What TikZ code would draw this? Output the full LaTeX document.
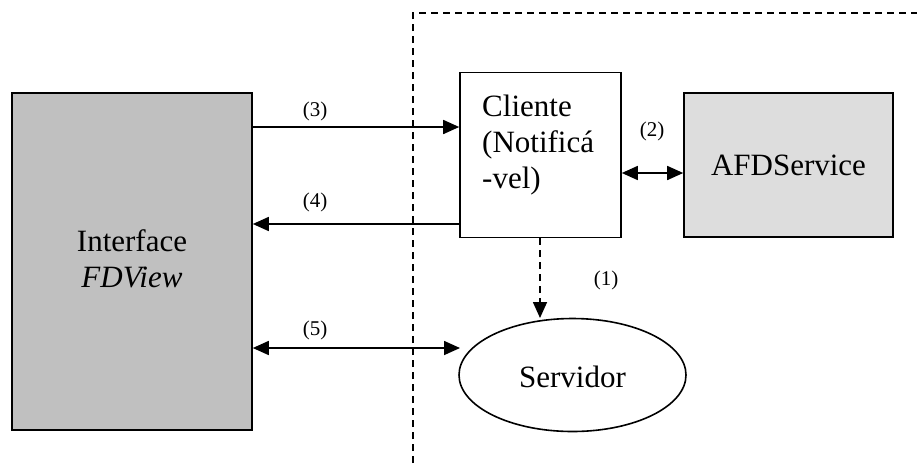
\documentclass[tikz,border=0pt]{standalone}
\usepackage{fontspec}
\setmainfont{Liberation Serif}
\usetikzlibrary{arrows.meta,shapes.geometric}
\definecolor{boxgray}{HTML}{C0C0C0}
\definecolor{lightgray}{HTML}{DDDDDD}
\begin{document}
\begin{tikzpicture}[x=1pt,y=-1pt,
  block/.style={draw,line width=1.6pt,inner sep=0pt},
  bigtext/.style={font=\fontsize{31}{36}\selectfont},
  lbl/.style={font=\fontsize{21}{24}\selectfont},
  conn/.style={line width=1.6pt,-{Triangle[length=16pt,width=14pt]}},
  biconn/.style={line width=1.6pt,{Triangle[length=16pt,width=14pt]}-{Triangle[length=16pt,width=14pt]}}]
  \useasboundingbox (0,0) rectangle (917,472);
  % boundary of the remote side
  \draw[line width=1.6pt,dash pattern=on 7pt off 5pt] (413,463) -- (413,13) -- (917,13);
  % blocks
  \node[block,fill=boxgray,minimum width=240pt,minimum height=337pt] (ui) at (132,261.5) {};
  \node[bigtext,align=center] (uitext) at (132,259) {Interface\\\textit{FDView}};
  \node[block,fill=white,minimum width=161pt,minimum height=165pt] (cli) at (540.5,155) {};
  \node[bigtext,align=left,anchor=base west,inner sep=0pt] (clitext) at (482,188) {Cliente\\(Notificá\\-vel)};
  \node[block,fill=lightgray,minimum width=209pt,minimum height=144pt] (afd) at (788.5,165) {};
  \node[bigtext] (afdtext) at (788.5,165) {AFDService};
  \node[block,ellipse,fill=white,minimum width=227pt,minimum height=113pt] (srv) at (572.5,375) {};
  \node[bigtext] (srvtext) at (572.5,377) {Servidor};
  % connection points
  \coordinate (c3a) at (ui.east |- 0,127);
  \coordinate (c3b) at (cli.west |- 0,127);
  \coordinate (c4a) at (cli.west |- 0,224);
  \coordinate (c4b) at (ui.east |- 0,224);
  \coordinate (c2a) at (cli.east |- 0,173);
  \coordinate (c2b) at (afd.west |- 0,173);
  \coordinate (c1a) at (cli.south -| 540,0);
  \coordinate (c1b) at (540,318);
  \coordinate (c5a) at (ui.east |- 0,348);
  \coordinate (c5b) at (460,348);
  % connectors
  \draw[conn] (c3a) -- (c3b);
  \draw[conn] (c4a) -- (c4b);
  \draw[biconn] (c2a) -- (c2b);
  \draw[conn,dash pattern=on 7pt off 5pt] (c1a) -- (c1b);
  \draw[biconn] (c5a) -- (c5b);
  % labels
  \node[lbl] (l3) at (315,111) {(3)};
  \node[lbl] (l4) at (315,202) {(4)};
  \node[lbl] (l2) at (652,131) {(2)};
  \node[lbl] (l1) at (606,280) {(1)};
  \node[lbl] (l5) at (315,330) {(5)};
\end{tikzpicture}
\end{document}
